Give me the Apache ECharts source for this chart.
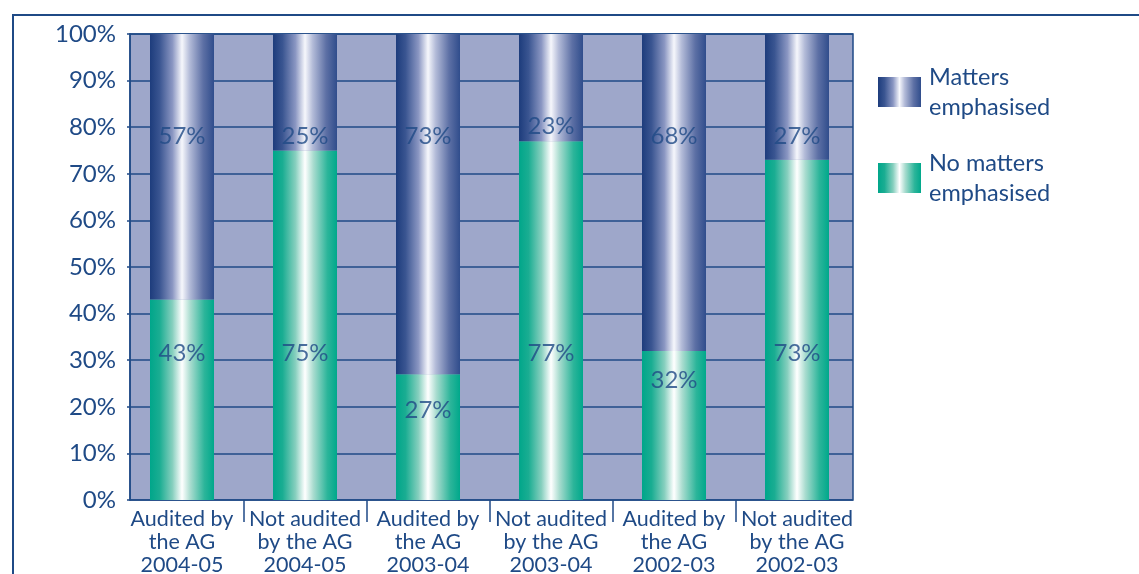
<!DOCTYPE html>
<html>
<head>
<meta charset="utf-8">
<script src="https://cdn.jsdelivr.net/npm/echarts@6/dist/echarts.min.js"></script>
<style>
  html, body { margin: 0; padding: 0; background: #ffffff; }
  #chart { width: 1139px; height: 574px; }
</style>
</head>
<body>
<div id="chart"></div>
<script>
// Categories (three-line axis labels)
const categories = [
  'Audited by\nthe AG\n2004-05',
  'Not audited\nby the AG\n2004-05',
  'Audited by\nthe AG\n2003-04',
  'Not audited\nby the AG\n2003-04',
  'Audited by\nthe AG\n2002-03',
  'Not audited\nby the AG\n2002-03'
];
// Shares in percent
const noMatters = [43, 75, 27, 77, 32, 73];
const matters   = [57, 25, 73, 23, 68, 27];
// Height (in %) at which each value label is written
const mattersLabelAt   = [78, 78, 78, 80.3, 78, 78];
const noMattersLabelAt = [31.5, 31.5, 19.3, 31.5, 25.8, 31.5];
const yTicks = [0, 10, 20, 30, 40, 50, 60, 70, 80, 90, 100];

const INK = '#1f4a86';
const FONT = 'Lato, "Open Sans", sans-serif';

function stripe(stops) {
  return new echarts.graphic.LinearGradient(0, 0, 1, 0,
    stops.map(s => ({ offset: s[0], color: s[1] })));
}
const blueFill = stripe([
  [0, '#1d3c7c'], [0.15, '#3a5591'], [0.35, '#8a96c2'], [0.5, '#f6f7fc'],
  [0.62, '#b3bbd8'], [0.83, '#5d70a5'], [1, '#304d8c']
]);
const greenFill = stripe([
  [0, '#00a68a'], [0.15, '#1aad92'], [0.35, '#86cfbe'], [0.5, '#ffffff'],
  [0.63, '#a9dccf'], [0.85, '#2cb59a'], [1, '#00a88b']
]);

const chart = echarts.init(document.getElementById('chart'), null, { renderer: 'canvas' });

const labelSeries = (vals, at) => ({
  type: 'scatter',
  xAxisIndex: 1, yAxisIndex: 1,
  symbolSize: 0,
  silent: true,
  data: vals.map((v, i) => [i, at[i], v]),
  label: {
    show: true, position: 'inside',
    formatter: p => p.value[2] + '%',
    color: INK, fontFamily: FONT, fontSize: 24
  },
  z: 5
});

chart.setOption({
  animation: false,
  textStyle: { fontFamily: FONT },
  grid: [
    // plot frame, background and percent scale
    { left: 130, top: 34, width: 723, height: 466, show: true, outerBoundsMode: 'none',
      backgroundColor: '#9ea7ca', borderColor: INK, borderWidth: 1.5 },
    // bars and category labels
    { left: 120.5, top: 34, width: 738, height: 466, outerBoundsMode: 'none' },
    // separators between category labels
    { left: 243.5, top: 499, width: 492, height: 1, outerBoundsMode: 'none' }
  ],
  xAxis: [
    { gridIndex: 0, type: 'value', min: 0, max: 1, show: false },
    { gridIndex: 1, type: 'category', data: categories,
      axisLine: { show: false }, axisTick: { show: false },
      axisLabel: { color: INK, fontFamily: FONT, fontSize: 21.5, lineHeight: 23,
                   margin: 8, interval: 0 } },
    { gridIndex: 2, type: 'value', min: 1, max: 5, interval: 1,
      axisLine: { show: false }, splitLine: { show: false },
      axisLabel: { show: false },
      axisTick: { show: true, length: 22, lineStyle: { color: INK, width: 1.5 } } }
  ],
  yAxis: [
    { gridIndex: 0, type: 'value', min: 0, max: 100, interval: 10,
      axisLine: { show: true, lineStyle: { color: INK, width: 1.5 } },
      axisTick: { show: true, length: 3, lineStyle: { color: INK, width: 1.5 } },
      splitLine: { show: true, lineStyle: { color: INK, width: 1.5 } },
      axisLabel: { color: INK, fontFamily: FONT, fontSize: 24, margin: 14,
                   padding: [5, 0, 0, 0],
                   formatter: v => (yTicks.indexOf(v) >= 0 ? v + '%' : '') } },
    { gridIndex: 1, type: 'value', min: 0, max: 100, show: false },
    { gridIndex: 2, type: 'value', min: 0, max: 1, show: false }
  ],
  legend: {
    orient: 'vertical', left: 873, top: 57,
    itemWidth: 43, itemHeight: 30, itemGap: 26,
    icon: 'rect',
    textStyle: { color: INK, fontFamily: FONT, fontSize: 23.5, lineHeight: 30,
                 padding: [0, 0, 0, 3] },
    data: ['Matters emphasised', 'No matters emphasised'],
    formatter: n => n === 'Matters emphasised' ? 'Matters\nemphasised' : 'No matters\nemphasised'
  },
  graphic: [
    { type: 'polyline', silent: true,
      shape: { points: [[13, 574], [13, 15], [1139, 15]] },
      style: { stroke: INK, lineWidth: 2, fill: null } }
  ],
  series: [
    { name: 'No matters emphasised', type: 'bar', stack: 'all',
      xAxisIndex: 1, yAxisIndex: 1, barWidth: 64,
      itemStyle: { color: greenFill }, data: noMatters, z: 3 },
    { name: 'Matters emphasised', type: 'bar', stack: 'all',
      xAxisIndex: 1, yAxisIndex: 1, barWidth: 64,
      itemStyle: { color: blueFill }, data: matters, z: 3 },
    labelSeries(matters, mattersLabelAt),
    labelSeries(noMatters, noMattersLabelAt)
  ]
});
</script>
</body>
</html>
